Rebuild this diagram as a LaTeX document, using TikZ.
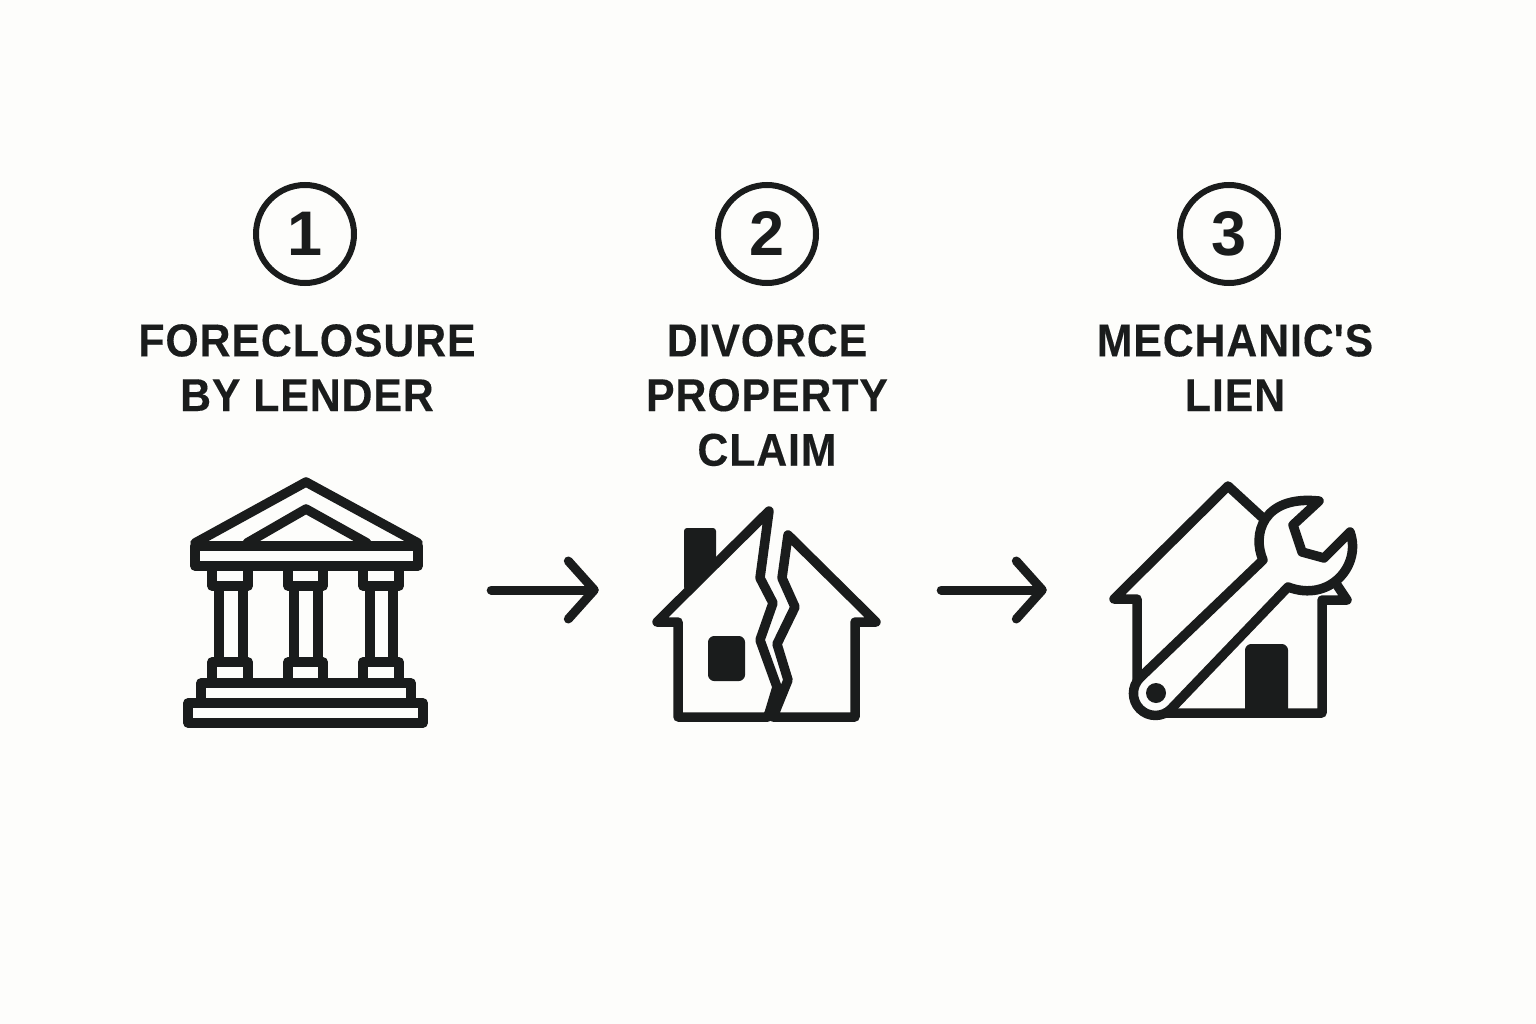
\documentclass[tikz,border=0pt]{standalone}
\usepackage{fontspec}
\setmainfont{Liberation Sans}
\usetikzlibrary{arrows.meta}
\definecolor{ink}{RGB}{26, 28, 28}
\definecolor{paper}{RGB}{253, 253, 251}
\tikzset{
    stepnum/.style={circle, draw=ink, line width=6pt, minimum size=98pt, inner sep=0pt, text=ink, font=\fontsize{63}{63}\selectfont\bfseries},
    title/.style={align=center, text=ink, inner sep=0pt, font=\fontsize{46}{54.7}\selectfont\bfseries\addfontfeatures{FakeStretch=0.93, LetterSpace=2, FakeBold=0.2}},
    slot/.style={inner sep=0pt, minimum height=20pt},
    lines/.style={draw=ink, line width=9.5pt, line join=round, line cap=round},
    solid fill/.style={draw=ink, fill=ink, line width=8pt, line join=round},
    flow/.style={draw=ink, line width=9pt, line cap=round, -{Straight Barb[length=26pt, width=58pt, round]}}
}
\begin{document}
\begin{tikzpicture}[x=1pt, y=-1pt]
    \fill[paper] (0,0) rectangle (1536,1024);
    \useasboundingbox (0,0) rectangle (1536,1024);

    \node (n1) [stepnum] at (305,234) {1};
    \node (n2) [stepnum] at (767,234) {2};
    \node (n3) [stepnum] at (1229,234) {3};

    \node (t1) [title, anchor=north] at (307,324) {FORECLOSURE\\BY LENDER};
    \node (t2) [title, anchor=north] at (767,324) {DIVORCE\\PROPERTY\\CLAIM};
    \node (t3) [title, anchor=north] at (1235,324) {MECHANIC\textquotesingle S\\LIEN};

    \node (bank) [slot, minimum width=242pt] at (306,590) {};
    \node (split) [slot, minimum width=226pt] at (767,590) {};
    \node (wrench) [slot, minimum width=247pt] at (1231.5,590) {};

    \draw[flow, shorten <=64pt, shorten >=55pt] (bank) -- (split);
    \draw[flow, shorten <=61pt, shorten >=61pt] (split) -- (wrench);

    % bank
    \draw[lines] (195,543) -- (306,482) -- (418,543);
    \draw[lines] (247,543) -- (306,509) -- (367,543);
    \draw[lines] (195,546) rectangle (418,566);
    \draw[lines] (212,566) rectangle (248,586);
    \draw[lines] (288,566) rectangle (323,586);
    \draw[lines] (363,566) rectangle (399,586);
    \draw[lines] (219,586) -- (219,662) (243,586) -- (243,662);
    \draw[lines] (294,586) -- (294,662) (318,586) -- (318,662);
    \draw[lines] (370,586) -- (370,662) (393,586) -- (393,662);
    \draw[lines] (212,662) rectangle (248,683);
    \draw[lines] (288,662) rectangle (323,683);
    \draw[lines] (363,662) rectangle (399,683);
    \draw[lines] (201,683) rectangle (411,703);
    \draw[lines] (188,703) rectangle (423,723);

    % split house
    \fill[ink, rounded corners=3pt] (684,528) -- (716,528) -- (716,560) -- (684,590) -- cycle;
    \draw[solid fill, rounded corners=2pt] (712,640) rectangle (741,677);
    \fill[ink] (777,687) -- (788,680) -- (778,717) -- (762,717) -- cycle;
    \draw[lines] (768,717) -- (678,717) -- (678,622) -- (657,622) -- (769,511) -- (760,578) -- (773,603) -- (760,640) -- (777,687) -- (768,717);
    \draw[lines] (773,717) -- (855,717) -- (855,622) -- (876,622) -- (788,535) -- (782,578) -- (795,607) -- (777,644) -- (788,680) -- (773,717);

    % house under the wrench
    \draw[lines] (1137,680) -- (1137,599) -- (1114,599) -- (1228,486) -- (1265,520);
    \draw[lines] (1337,585) -- (1347,600) -- (1322,600) -- (1322,713) -- (1160,713);
    \draw[solid fill, rounded corners=2pt] (1249,648) rectangle (1284,713);

    % wrench
    \draw[lines, fill=paper] (1263,560) .. controls (1252,535) and (1262,495) .. (1319,501)
        -- (1293,525) -- (1302,552) -- (1324,558) -- (1350,532)
        .. controls (1362,565) and (1330,603) .. (1288,587)
        -- (1171,709) arc[start angle=-45, end angle=-225, radius=22pt] -- cycle;
    \fill[ink] (1156,693) circle[radius=10pt];
\end{tikzpicture}
\end{document}
